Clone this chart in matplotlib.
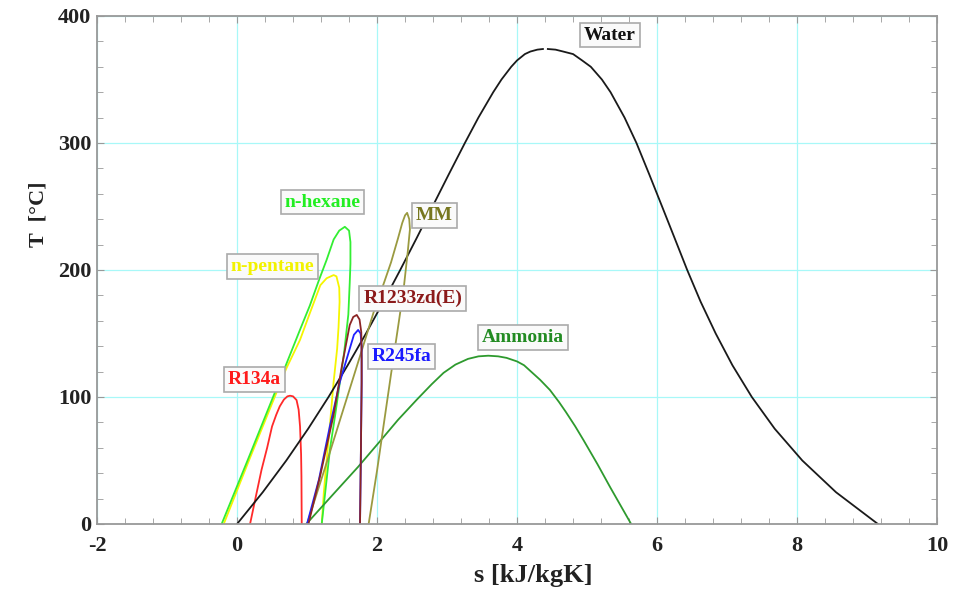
import matplotlib
matplotlib.use("Agg")
import matplotlib.pyplot as plt
from matplotlib.ticker import MultipleLocator

# saturation domes: entropy s [kJ/kgK], temperature T [C]
water_liq_s = [0.0, 0.367, 0.704, 1.016, 1.307, 1.581, 1.842, 2.091, 2.331, 2.565,
               2.793, 3.022, 3.255, 3.448, 3.660, 3.778, 3.917, 4.00, 4.112, 4.19,
               4.29, 4.37]
water_liq_T = [0, 25, 50, 75, 100, 125, 150, 175, 200, 225,
               250, 275, 300, 320, 340, 350, 360, 365, 370, 372,
               373.5, 374]
water_vap_s = [4.44, 4.55, 4.66, 4.801, 4.93, 5.054, 5.212, 5.336, 5.536, 5.706,
               5.891, 6.072, 6.252, 6.431, 6.623, 6.838, 7.077, 7.354, 7.681, 8.075,
               8.557, 9.155]
water_vap_T = [374, 373.5, 372, 370, 365, 360, 350, 340, 320, 300,
               275, 250, 225, 200, 175, 150, 125, 100, 75, 50,
               25, 0]

ammonia_s = [0.99, 1.40, 1.73, 2.04, 2.30, 2.57, 2.78, 2.95, 3.12, 3.30,
             3.45, 3.59, 3.73, 3.85, 4.00, 4.10, 4.20, 4.33, 4.47, 4.60,
             4.70, 4.83, 4.95, 5.15, 5.33, 5.48, 5.63]
ammonia_T = [0, 25, 45, 65, 82, 98, 110, 119, 125.5, 130,
             132, 132.5, 132, 130.8, 128, 125, 120, 113.5, 105.5, 96,
             88, 77, 66, 47, 29, 14.5, 0]

hexane_s = [-0.22, 0.15, 0.69, 0.90, 1.04, 1.17, 1.28, 1.38, 1.46, 1.54,
            1.60, 1.62, 1.62, 1.61, 1.59, 1.53, 1.47, 1.40, 1.33, 1.27,
            1.21]
hexane_T = [0, 50, 124, 153, 172, 192, 208, 224, 231, 234,
            231, 222, 205, 190, 165, 135, 112, 85, 60, 30,
            0]

pentane_s = [-0.19, 0.17, 0.70, 0.90, 1.04, 1.19, 1.28, 1.38, 1.42, 1.46,
             1.465, 1.45, 1.43, 1.38, 1.33, 1.28, 1.24, 1.21]
pentane_T = [0, 50, 122, 145, 166, 188, 193.5, 196, 195, 186,
             175, 155, 138, 112, 80, 50, 25, 0]

mm_s = [1.0, 1.25, 1.50, 1.75, 1.97, 2.10, 2.20, 2.30, 2.36, 2.40,
        2.43, 2.46, 2.47, 2.44, 2.38, 2.30, 2.20, 2.10, 2.00, 1.88]
mm_T = [0, 43, 87, 131, 170, 190, 206, 225, 237, 243,
        245, 240, 232, 215, 185, 155, 118, 80, 42, 0]

r1233_s = [1.02, 1.19, 1.38, 1.50, 1.61, 1.66, 1.71, 1.75, 1.775, 1.78,
           1.78, 1.77, 1.757]
r1233_T = [0, 38.6, 86, 125, 156.7, 163, 164.6, 161, 151, 130,
           112, 60, 0]

r245_s = [1.0, 1.17, 1.33, 1.47, 1.61, 1.67, 1.73, 1.765, 1.78, 1.78,
          1.77, 1.757]
r245_T = [0, 35, 78, 112, 138, 149, 152.8, 150, 140, 110,
          60, 0]

r134_s = [0.186, 0.27, 0.35, 0.43, 0.50, 0.56, 0.61, 0.67, 0.72, 0.757,
          0.80, 0.85, 0.88, 0.90, 0.915, 0.92, 0.924]
r134_T = [0, 22, 42.7, 60, 76.8, 86, 92.6, 98, 100.5, 101,
          100.5, 97.6, 90, 76.8, 55, 37.5, 0]

# label text, anchor (s, T), colour
labels = ["Water", "n-hexane", "n-pentane", "MM", "R1233zd(E)", "R245fa", "Ammonia", "R134a"]
label_s = [5.33, 1.22, 0.51, 2.82, 2.51, 2.35, 4.08, 0.25]
label_T = [385, 253.5, 203, 243, 177.5, 131.7, 147, 114]
label_colors = ["#111111", "#22ee22", "#f2f200", "#77771f", "#8b1a1a", "#1a1aff", "#228b22", "#ff1a1a"]

plt.rcParams["font.family"] = ["Liberation Serif", "DejaVu Serif"]
plt.rcParams["font.weight"] = "bold"
plt.rcParams["axes.unicode_minus"] = False

fig = plt.figure(figsize=(9.58, 5.90), dpi=100)
ax = fig.add_axes([0.1013, 0.1119, 0.8768, 0.861])

lw = 1.3
ax.plot(pentane_s, pentane_T, color="#f5f500", lw=lw)
ax.plot(hexane_s, hexane_T, color="#33ee33", lw=lw)
ax.plot(r134_s, r134_T, color="#ff2a2a", lw=lw)
ax.plot(water_liq_s, water_liq_T, color="#1a1a1a", lw=lw)
ax.plot(water_vap_s, water_vap_T, color="#1a1a1a", lw=lw)
ax.plot(ammonia_s, ammonia_T, color="#2e9a2e", lw=lw)
ax.plot(mm_s, mm_T, color="#9a9a40", lw=lw)
ax.plot(r245_s, r245_T, color="#2020ff", lw=lw)
ax.plot(r1233_s, r1233_T, color="#8b2525", lw=lw)

for txt, xs, yt, c in zip(labels, label_s, label_T, label_colors):
    ax.text(xs, yt, txt, color=c, fontsize=14, fontweight="bold", ha="center", va="center",
            bbox=dict(boxstyle="square,pad=0.2", fc="#fafafa", ec="#aaaaaa", lw=1.2))

ax.set_xlim(-2, 10)
ax.set_ylim(0, 400)
ax.xaxis.set_major_locator(MultipleLocator(2))
ax.xaxis.set_minor_locator(MultipleLocator(0.4))
ax.yaxis.set_major_locator(MultipleLocator(100))
ax.yaxis.set_minor_locator(MultipleLocator(20))
ax.grid(True, which="major", color="#a8f8f8", lw=0.9)
ax.set_axisbelow(True)

ax.tick_params(which="both", direction="in", top=True, right=True, color="#999999",
               labelsize=16, labelcolor="#222222")
ax.tick_params(which="major", length=5)
ax.tick_params(which="minor", length=4)
ax.tick_params(axis="x", pad=9)
ax.tick_params(axis="y", pad=4)
for sp in ax.spines.values():
    sp.set_color("#999999")
    sp.set_linewidth(1.3)

ax.set_xlabel("s [kJ/kgK]", fontsize=19, fontweight="bold", color="#222222")
ax.xaxis.set_label_coords(0.519, -0.078)
ax.set_ylabel("T  [\u00b0C]", fontsize=16, fontweight="bold", color="#222222")
ax.yaxis.set_label_coords(-0.058, 0.61)

fig.savefig("out.png", dpi=100)
